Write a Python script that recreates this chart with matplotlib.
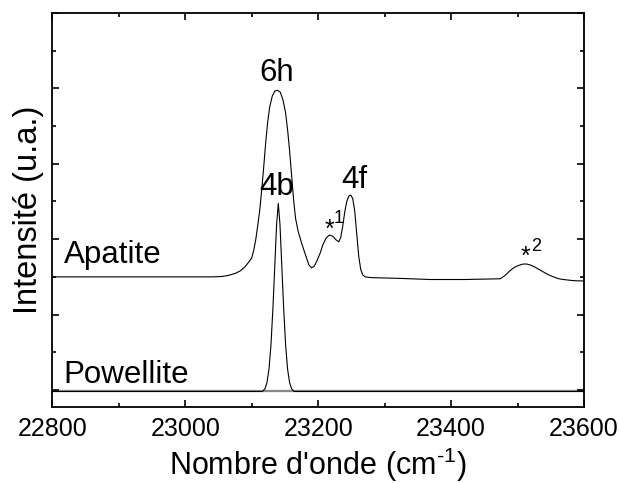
import matplotlib
matplotlib.use('Agg')
import matplotlib.pyplot as plt
from matplotlib.ticker import MultipleLocator

plt.rcParams['font.family'] = ['Liberation Sans', 'DejaVu Sans']
plt.rcParams['mathtext.fontset'] = 'custom'
plt.rcParams['mathtext.rm'] = 'Liberation Sans'

# Powellite spectrum (wavenumber cm-1, intensity a.u.)
pow_x = [22800, 23116, 23120, 23123, 23126, 23129, 23132, 23135, 23137.5,
         23140, 23142.5, 23145, 23148, 23151, 23154, 23157, 23160, 23164,
         23600]
pow_y = [-0.04, -0.04, 0.03, 0.2, 0.55, 1.2, 2.2, 3.4, 4.4,
         4.95, 4.4, 3.4, 2.2, 1.2, 0.55, 0.2, 0.03, -0.04,
         -0.04]

# Apatite spectrum (offset baseline ~3)
apa_x = [22800, 22900, 23000, 23040, 23055, 23065, 23075, 23083, 23090,
         23095, 23100, 23103, 23106, 23109, 23112, 23115, 23118, 23121,
         23124, 23127, 23131, 23135, 23139, 23143, 23147, 23151, 23154,
         23157, 23160, 23163, 23166, 23170, 23175, 23181, 23186, 23190,
         23194, 23198, 23203, 23207, 23212, 23217, 23222, 23227, 23231,
         23234, 23237, 23240, 23243, 23246, 23249, 23252, 23255, 23258,
         23261, 23264, 23267, 23271, 23280, 23323, 23369, 23420, 23474,
         23482, 23489, 23495, 23501, 23508, 23514, 23520, 23526, 23532,
         23539, 23546, 23554, 23562, 23569, 23584, 23600]
apa_y = [3.0, 3.0, 3.0, 3.0, 3.01, 3.04, 3.09, 3.16, 3.27,
         3.38, 3.5, 3.7, 3.98, 4.35, 4.75, 5.3, 5.9, 6.55,
         7.1, 7.5, 7.8, 7.93, 7.95, 7.9, 7.7, 7.35, 6.9,
         6.35, 5.7, 5.05, 4.55, 4.2, 3.9, 3.58, 3.32, 3.24,
         3.28, 3.42, 3.63, 3.85, 4.03, 4.11, 4.08, 3.98, 3.93,
         4.05, 4.35, 4.72, 5.0, 5.14, 5.17, 5.08, 4.75, 4.15,
         3.55, 3.2, 3.05, 3.0, 2.98, 2.96, 2.93, 2.93, 2.95,
         3.05, 3.17, 3.25, 3.3, 3.34, 3.34, 3.31, 3.26, 3.2,
         3.13, 3.06, 3.0, 2.95, 2.93, 2.9, 2.89]

fig = plt.figure(figsize=(6.19, 4.83), dpi=100)
ax = fig.add_axes([0.0845, 0.1567, 0.859, 0.8164])

ax.axhline(-0.04, color='#888888', lw=1.6, zorder=1)
ax.plot(pow_x, pow_y, color='black', lw=0.8, zorder=2)
ax.plot(apa_x, apa_y, color='black', lw=0.8, zorder=2)

ax.set_xlim(22800, 23600)
ax.set_ylim(-0.46, 10)
ax.xaxis.set_major_locator(MultipleLocator(200))
ax.xaxis.set_minor_locator(MultipleLocator(100))
ax.yaxis.set_major_locator(MultipleLocator(2))
ax.yaxis.set_minor_locator(MultipleLocator(1))
ax.tick_params(which='both', direction='in', top=True, right=True,
               width=1.2, labelleft=False)
ax.tick_params(which='major', length=5)
ax.tick_params(which='minor', length=3)
ax.tick_params(axis='x', labelsize=18, pad=7)
for s in ax.spines.values():
    s.set_linewidth(1.3)

ax.set_xlabel("Nombre d'onde (cm$^{\\text{-1}}$)", fontsize=22, labelpad=3)
ax.set_ylabel('Intensité (u.a.)', fontsize=23.5, labelpad=6)

fs = 22.5
ax.text(23138, 8.2, '6h', ha='center', va='baseline', fontsize=fs)
ax.text(23138, 5.17, '4b', ha='center', va='baseline', fontsize=fs)
ax.text(23254, 5.35, '4f', ha='center', va='baseline', fontsize=fs)
ax.text(22818, 3.38, 'Apatite', ha='left', va='baseline', fontsize=fs)
ax.text(22816, 0.18, 'Powellite', ha='left', va='baseline', fontsize=fs)

ax.text(23217, 4.06, '*', ha='center', va='baseline', fontsize=18)
ax.text(23224, 4.42, '1', ha='left', va='baseline', fontsize=13)
ax.text(23512.5, 3.34, '*', ha='center', va='baseline', fontsize=18)
ax.text(23520, 3.69, '2', ha='left', va='baseline', fontsize=13)

fig.savefig('out.png', dpi=100)
